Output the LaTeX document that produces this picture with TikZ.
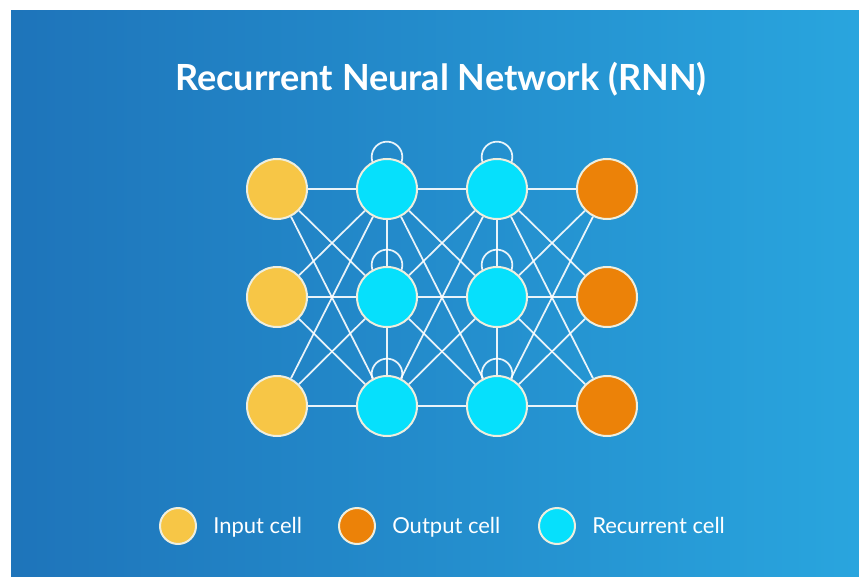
\documentclass[tikz,border=0pt]{standalone}
\usepackage{fontspec}
\setmainfont{Lato}
\usetikzlibrary{backgrounds}
\pgfdeclarelayer{bglayer}
\pgfdeclarelayer{edgelayer}
\pgfsetlayers{bglayer,edgelayer,main}
\definecolor{bgL}{RGB}{30,116,186}
\definecolor{bgR}{RGB}{41,165,222}
\definecolor{cinp}{RGB}{247,198,70}
\definecolor{cout}{RGB}{236,130,8}
\definecolor{crec}{RGB}{6,224,252}
\definecolor{rim}{RGB}{238,238,222}
\tikzset{
  cell/.style={circle, draw=rim, line width=1.5pt, minimum size=45pt, inner sep=0pt},
  inp/.style={cell, fill=cinp},
  outc/.style={cell, fill=cout},
  rec/.style={cell, fill=crec},
  lgd/.style={minimum size=27pt},
  conn/.style={draw=white, line width=1.3pt, opacity=0.9},
  lbl/.style={text=white, font=\fontsize{16.5pt}{18pt}\selectfont, inner sep=0pt},
  ttl/.style={text=white, font=\fontsize{27pt}{30pt}\selectfont\bfseries, inner sep=0pt}
}
\begin{document}
\begin{tikzpicture}[x=0.75pt,y=-0.75pt]
\useasboundingbox (0,0) rectangle (859,577);
\begin{pgfonlayer}{bglayer}
\fill[white] (0,0) rectangle (859,577);
\shade[left color=bgL, right color=bgR] (11,11) rectangle (859,577);
\end{pgfonlayer}

\node[ttl, anchor=base] (title) at (441,91) {Recurrent Neural Network (RNN)};

\foreach \r/\y in {1/189,2/297,3/406} {
  \node[inp] (i\r) at (277,\y) {};
  \node[rec] (a\r) at (387,\y) {};
  \node[rec] (b\r) at (497,\y) {};
  \node[outc] (o\r) at (607,\y) {};
}

\begin{pgfonlayer}{edgelayer}
\foreach \p in {1,2,3} {
  \foreach \q in {1,2,3} {
    \draw[conn] (i\p) -- (a\q);
    \draw[conn] (a\p) -- (b\q);
    \draw[conn] (b\p) -- (o\q);
  }
}
\draw[conn] (a1) -- (a2);
\draw[conn] (a2) -- (a3);
\draw[conn] (b1) -- (b2);
\draw[conn] (b2) -- (b3);
\foreach \n in {a1,a2,a3,b1,b2,b3} {
  \draw[conn] ([yshift=24pt]\n.center) circle[radius=11.5pt];
}
\end{pgfonlayer}

\node[inp, lgd] (li) at (178,526) {};
\node[lbl, anchor=base west] (lit) at (213,533) {Input cell};
\node[outc, lgd] (lo) at (357,526) {};
\node[lbl, anchor=base west] (lot) at (392,533) {Output cell};
\node[rec, lgd] (lr) at (557,526) {};
\node[lbl, anchor=base west] (lrt) at (592,533) {Recurrent cell};
\end{tikzpicture}
\end{document}
